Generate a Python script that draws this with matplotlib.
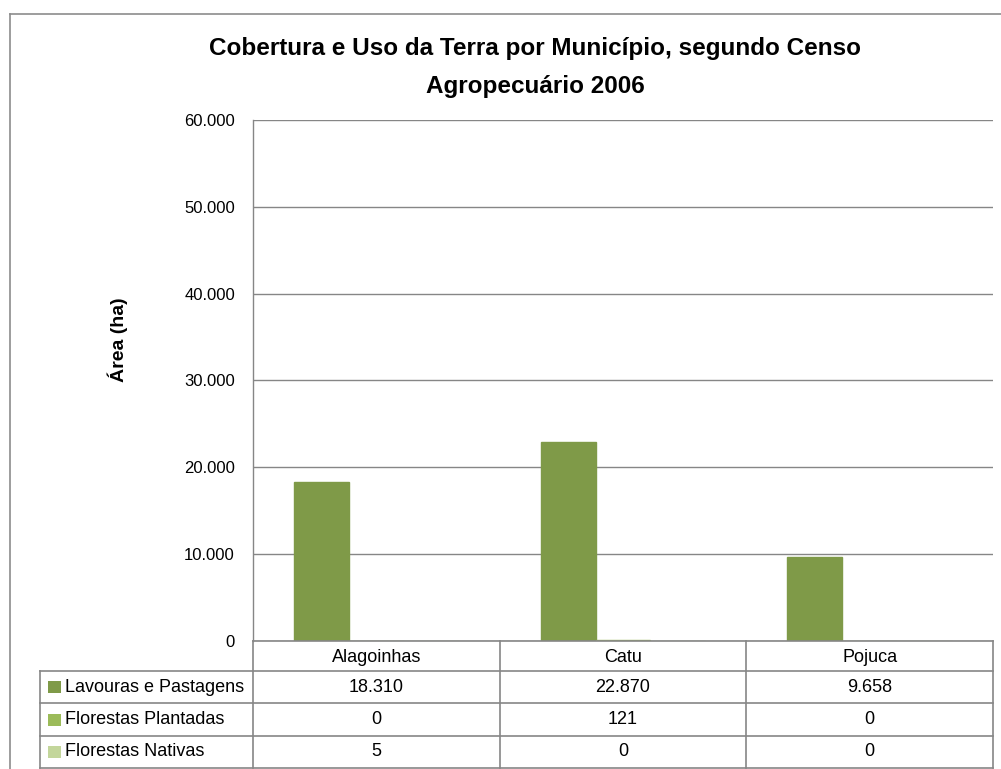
import matplotlib
matplotlib.use('Agg')
import matplotlib.pyplot as plt
from matplotlib import font_manager
from matplotlib.transforms import blended_transform_factory
from matplotlib.patches import Rectangle
from matplotlib.lines import Line2D

categories = ['Alagoinhas', 'Catu', 'Pojuca']
series_names = ['Lavouras e Pastagens', 'Florestas Plantadas', 'Florestas Nativas']
lavouras = [18310, 22870, 9658]
plantadas = [0, 121, 0]
nativas = [5, 0, 0]
y_ticks = [0, 10000, 20000, 30000, 40000, 50000, 60000]
title_lines = ['Cobertura e Uso da Terra por Município, segundo Censo', 'Agropecuário 2006']
y_label = 'Área (ha)'
colors = ['#7f9a48', '#9bbb59', '#c3d69b']
series = [lavouras, plantadas, nativas]

names = {f.name for f in font_manager.fontManager.ttflist}
fam = [f for f in ['Liberation Sans', 'DejaVu Sans'] if f in names]
plt.rcParams['font.family'] = fam

def fmt(v):
    return f'{int(v):,}'.replace(',', '.')

W, H = 1001, 769
fig = plt.figure(figsize=(W / 100, H / 100), dpi=100)
def fx(px): return px / W
def fy(py): return 1 - py / H

GRAY = '#868686'
L, R, T, B = 253, 993, 120, 641
ax = fig.add_axes([fx(L), fy(B), fx(R) - fx(L), fy(T) - fy(B)])

bw = 1 / 4.5
for k, (vals, c) in enumerate(zip(series, colors)):
    xs = [i + (k - 1) * bw for i in range(len(categories))]
    ax.bar(xs, vals, width=bw, color=c, edgecolor=c, linewidth=1.0, zorder=2)

ax.set_xlim(-0.5, len(categories) - 0.5)
ax.set_ylim(0, 60000)
ax.set_yticks(y_ticks)
ax.set_yticklabels([fmt(v) for v in y_ticks], fontsize=12)
ax.tick_params(axis='y', length=0, pad=13)
ax.set_xticks([])
ax.yaxis.grid(True, color=GRAY, linewidth=1.0, zorder=0)
ax.set_axisbelow(True)
for s in ['top', 'right', 'bottom']:
    ax.spines[s].set_visible(False)
ax.spines['left'].set_color(GRAY)
ax.spines['left'].set_linewidth(1.0)

# title and y label
fig.text(fx(535), fy(49), title_lines[0], ha='center', va='center', fontsize=17.5, fontweight='bold')
fig.text(fx(535), fy(87), title_lines[1], ha='center', va='center', fontsize=17.5, fontweight='bold')
fig.text(fx(118), fy(340), y_label, ha='center', va='center', rotation=90, fontsize=14, fontweight='bold')

# data table
tr = blended_transform_factory(ax.transData, fig.transFigure)
ft = fig.transFigure
row_edges = [641, 671, 703, 736, 768]
col_edges = [i - 0.5 for i in range(len(categories) + 1)]
leg_left = 40

def hline(ypx, x0px=None):
    if x0px is None:
        fig.add_artist(Line2D([col_edges[0], col_edges[-1]], [fy(ypx)] * 2, transform=tr,
                              color=GRAY, lw=1.2, zorder=5, clip_on=False))
    else:
        fig.add_artist(Line2D([fx(x0px), fx(R)], [fy(ypx)] * 2, transform=ft,
                              color=GRAY, lw=1.2, zorder=5, clip_on=False))

hline(row_edges[0])
for yv in row_edges[1:]:
    hline(yv, leg_left)
for xe in col_edges:
    fig.add_artist(Line2D([xe, xe], [fy(row_edges[0]), fy(row_edges[-1])], transform=tr,
                          color=GRAY, lw=1.2, zorder=5, clip_on=False))
fig.add_artist(Line2D([fx(leg_left)] * 2, [fy(row_edges[1]), fy(row_edges[-1])], transform=ft,
                      color=GRAY, lw=1.2, zorder=5, clip_on=False))

fs_tab = 13
for i, cat in enumerate(categories):
    fig.text(i, fy((row_edges[0] + row_edges[1]) / 2 + 1), cat, transform=tr,
             ha='center', va='center', fontsize=fs_tab)
for k, (name, vals, c) in enumerate(zip(series_names, series, colors)):
    yc = (row_edges[k + 1] + row_edges[k + 2]) / 2
    fig.add_artist(Rectangle((fx(48), fy(yc + 6)), fx(13), 12 / H, transform=ft,
                             facecolor=c, edgecolor='none'))
    fig.text(fx(65), fy(yc), name, ha='left', va='center', fontsize=fs_tab)
    for i, v in enumerate(vals):
        fig.text(i, fy(yc), fmt(v), transform=tr, ha='center', va='center', fontsize=fs_tab)

# outer chart border
fig.add_artist(Line2D([fx(10), 1], [fy(14)] * 2, transform=ft, color='#8c8c8c', lw=1.2))
fig.add_artist(Line2D([fx(10)] * 2, [fy(14), 0], transform=ft, color='#8c8c8c', lw=1.2))

fig.savefig('out.png', dpi=100)
